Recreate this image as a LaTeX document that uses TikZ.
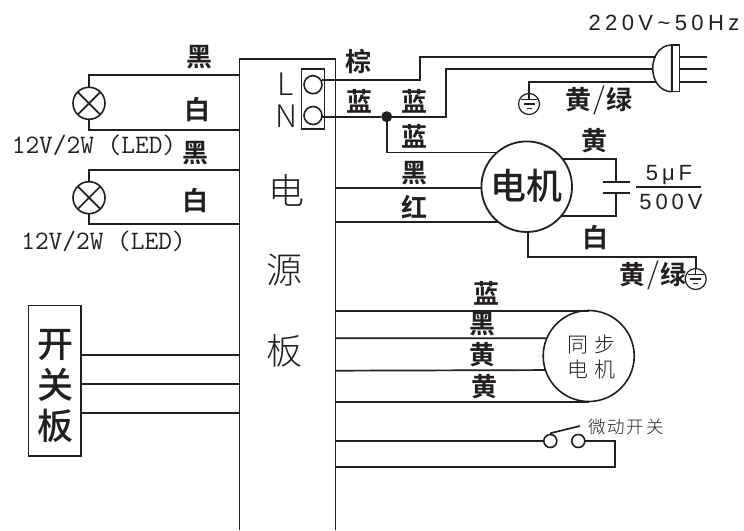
\documentclass[tikz,border=0pt]{standalone}
\usepackage{fontspec}
\setmainfont{Liberation Sans}
\setmonofont{Latin Modern Mono}
\newfontfamily\cjk{Noto Sans CJK SC Medium}
\newfontfamily\cjklight{Noto Sans CJK SC Light}
\newfontfamily\cjkbold{Noto Sans CJK SC Bold}
\newfontfamily\wideA[LetterSpace=20]{Liberation Sans}
\newfontfamily\wideB[LetterSpace=18]{Liberation Sans}
\definecolor{ink}{HTML}{231F20}
\tikzset{
  wire/.style={draw=ink,line width=1.7pt,line join=miter},
  thickwire/.style={draw=ink,line width=2pt,line join=miter},
  rim/.style={draw=ink,line width=1.5pt},
  roundpart/.style={circle,draw=ink,line width=1.6pt,fill=white,inner sep=0pt,outer sep=0pt},
  lbl/.style={text=ink,inner sep=0pt,outer sep=0pt,font=\fontsize{26}{26}\selectfont\cjkbold},
  bigtxt/.style={text=ink,inner sep=0pt,outer sep=0pt,font=\fontsize{36}{36}\selectfont\cjklight},
  smalltxt/.style={text=ink,inner sep=0pt,outer sep=0pt},
  ledtxt/.style={text=ink,inner sep=0pt,outer sep=0pt,font=\fontsize{26.6}{26.6}\selectfont\ttfamily},
}
\newcommand{\yg}{黄\hspace{2pt}{\cjklight\fontsize{30}{30}\selectfont /}\hspace{2pt}绿}
\begin{document}
\begin{tikzpicture}[x=1pt,y=-1pt]
\useasboundingbox (0,0) rectangle (744,530);
\fill[white] (0,0) rectangle (744,530);

% power board (open at the lower edge)
\coordinate (bTL) at (239.5,59);
\coordinate (bTR) at (335.5,59);
\coordinate (bBL) at (239.5,530);
\coordinate (bBR) at (335.5,530);
\draw[rim] (bBL) -- (bTL) -- (bTR) -- (bBR);
\node[bigtxt] (tDian) at (286,190) {电};
\node[bigtxt] (tYuan) at (284.5,270.5) {源};
\node[bigtxt] (tBan) at (284.5,351) {板};

% terminals
\node[draw=ink,line width=1.3pt,minimum width=23pt,minimum height=60pt,inner sep=0pt,outer sep=0pt] (term) at (313.2,99) {};
\node[roundpart,minimum size=18pt] (tL) at (313,84.7) {};
\node[roundpart,minimum size=18pt] (tN) at (313,115.5) {};
\node[smalltxt,font=\fontsize{31}{31}\selectfont\cjklight] (lL) at (286,84) {L};
\node[smalltxt,font=\fontsize{31}{31}\selectfont\cjklight] (lN) at (286,116) {N};

% plug
\coordinate (pTop) at (671.7,45);
\coordinate (pBot) at (671.7,91.7);
\fill[white,draw=ink,line width=1.5pt] (pTop) .. controls (660,45) and (652.7,56) .. (652.7,68.3) .. controls (652.7,80.6) and (660,91.7) .. (pBot) -- cycle;
\node[draw=ink,line width=1.4pt,minimum width=7.6pt,minimum height=46.7pt,inner sep=0pt,outer sep=0pt,fill=white] (plugbar) at (675.6,68.3) {};
\coordinate (pr1) at (707,56.7);
\coordinate (pr2) at (707,69.3);
\coordinate (pr3) at (707,81.7);
\coordinate (pl1) at (655.5,56.7);
\coordinate (pl2) at (652.7,69.3);
\coordinate (pl3) at (656,81.7);
\draw[wire] (plugbar.east |- pr1) -- (pr1);
\draw[wire] (plugbar.east |- pr2) -- (pr2);
\draw[wire] (plugbar.east |- pr3) -- (pr3);
\node[smalltxt,font=\fontsize{22}{22}\selectfont\wideA] (tV) at (664,23) {220V\textasciitilde 50Hz};

% mains wires
\coordinate (k1) at (420,80.3);
\coordinate (k1b) at (420,56.7);
\coordinate (k2) at (446,116.7);
\coordinate (k2b) at (446,69.3);
\coordinate (tLe) at (322,80.3);
\coordinate (tNe) at (322,116.7);
\node[circle,fill=ink,minimum size=11pt,inner sep=0pt] (dot) at (386.7,116.7) {};
\draw[thickwire] (tLe) -- (k1) -- (k1b) -- (pl1);
\draw[thickwire] (tNe) -- (dot) -- (k2) -- (k2b) -- (pl2);

% earth 1
\node[circle,draw=ink,line width=1.2pt,minimum size=21pt,inner sep=0pt,outer sep=0pt] (e1) at (529,104) {};
\coordinate (e1s) at (529,99.3);
\coordinate (e1c) at (529,81.7);
\draw[wire] (pl3) -- (e1c) -- (e1.north);
\draw[line width=1.1pt,draw=ink] (e1.north) -- (e1s);
\draw[line width=1.1pt,draw=ink] (521,99.3) -- (537,99.3) (523.5,104) -- (534.5,104) (526.5,108.7) -- (531.5,108.7);

% AC motor
\node[roundpart,line width=1.8pt,minimum size=90.6pt] (motor) at (526.7,186.7) {};
\node[text=ink,inner sep=0pt,font=\fontsize{36}{36}\selectfont\cjk] (tMotor) at (526.7,186) {电机};
\draw[wire] (dot) |- (motor.131.4);
\coordinate (pm1) at (335.5,188);
\coordinate (pm2) at (335.5,222);
\draw[wire] (pm1) -- (motor.west |- pm1);
\draw[wire] (pm2) -- (motor.231);

% capacitor
\coordinate (c1) at (616,182.3);
\coordinate (c2) at (616,192.7);
\draw[thickwire] (motor.37) -- (motor.37 -| c1) -- (c1);
\draw[thickwire] (motor.-40) -- (motor.-40 -| c2) -- (c2);
\draw[thickwire] (602.7,182.3) -- (630,182.3) (602.7,192.7) -- (630,192.7);
\coordinate (fL) at (636,186.7);
\coordinate (fR) at (700.7,186.7);
\draw[thickwire] (fL) -- (fR);
\node[smalltxt,font=\fontsize{22}{22}\selectfont\wideB] (t5u) at (669,175) {5μF};
\node[smalltxt,font=\fontsize{22}{22}\selectfont\wideB] (t500) at (671,201.7) {500V};

% earth 2
\node[circle,draw=ink,line width=1.2pt,minimum size=21pt,inner sep=0pt,outer sep=0pt] (e2) at (695.7,279) {};
\coordinate (e2c) at (695.7,257);
\coordinate (m2c) at (527.7,257);
\draw[wire] (motor.south -| m2c) -- (m2c) -- (e2c) -- (e2.north);
\draw[line width=1.1pt,draw=ink] (e2.north) -- (695.7,274.3);
\draw[line width=1.1pt,draw=ink] (687.7,274.3) -- (703.7,274.3) (690.2,279) -- (701.2,279) (693.2,283.7) -- (698.2,283.7);

% synchronous motor
\node[roundpart,minimum size=91pt] (sync) at (588.7,356) {};
\node[smalltxt,font=\fontsize{21}{21}\selectfont\cjklight] (tS1) at (591.5,345) {同\hspace{6pt}步};
\node[smalltxt,font=\fontsize{21}{21}\selectfont\cjklight] (tS2) at (591.5,369.5) {电\hspace{6pt}机};
\coordinate (ps1) at (335.5,311.3);
\coordinate (ps2) at (335.5,338.3);
\coordinate (ps3) at (335.5,370.7);
\coordinate (ps4) at (335.5,401.7);
\draw[wire] (ps1) -- (ps1 -| sync.north);
\draw[wire] (ps2) -- (sync.157);
\draw[wire] (ps3) -- (sync.198.9);
\draw[wire] (ps4) -- (ps4 -| sync.south);

% microswitch
\node[roundpart,minimum size=13pt] (sw1) at (550.3,441) {};
\node[roundpart,minimum size=13pt] (sw2) at (578.3,441) {};
\coordinate (lev1) at (550,433.3);
\coordinate (lev2) at (580,426);
\draw[wire] (lev1) -- (lev2);
\coordinate (ps5) at (335.5,441);
\coordinate (ps6) at (335.5,467.3);
\coordinate (swc) at (615,441);
\draw[wire] (ps5) -- (sw1.west);
\draw[wire] (sw2.east) -- (swc) -- (swc |- ps6) -- (ps6);
\node[smalltxt,font=\fontsize{17.5}{17.5}\selectfont\cjklight] (tMicro) at (626,426.7) {微\hspace{2pt}动\hspace{2pt}开\hspace{2pt}关};

% lamps
\node[roundpart,minimum size=32pt] (lamp1) at (89,103.3) {};
\node[roundpart,minimum size=32pt] (lamp2) at (89,197.7) {};
\draw[wire] (lamp1.45) -- (lamp1.225) (lamp1.135) -- (lamp1.-45);
\draw[wire] (lamp2.45) -- (lamp2.225) (lamp2.135) -- (lamp2.-45);
\coordinate (bl1) at (239.5,75);
\coordinate (bl2) at (239.5,130);
\coordinate (bl3) at (239.5,170);
\coordinate (bl4) at (239.5,224.3);
\draw[wire] (lamp1.north) -- (lamp1.north |- bl1) -- (bl1);
\draw[wire] (lamp1.south) -- (lamp1.south |- bl2) -- (bl2);
\draw[wire] (lamp2.north) -- (lamp2.north |- bl3) -- (bl3);
\draw[wire] (lamp2.south) -- (lamp2.south |- bl4) -- (bl4);
\node[ledtxt] (tLed1) at (94,145) {12V/2W (LED)};
\node[ledtxt] (tLed2) at (103.5,241) {12V/2W (LED)};

% switch board
\node[draw=ink,line width=1.3pt,minimum width=52.3pt,minimum height=150.7pt,inner sep=0pt,outer sep=0pt] (swb) at (54.9,380.7) {};
\node[text=ink,inner sep=0pt,font=\fontsize{36}{36}\selectfont\cjk] (tK) at (55,345) {开};
\node[text=ink,inner sep=0pt,font=\fontsize{36}{36}\selectfont\cjk] (tG) at (55,385) {关};
\node[text=ink,inner sep=0pt,font=\fontsize{36}{36}\selectfont\cjk] (tB) at (55,426) {板};
\coordinate (bs1) at (239.5,355);
\coordinate (bs2) at (239.5,383.7);
\coordinate (bs3) at (239.5,413);
\draw[wire] (swb.east |- bs1) -- (bs1);
\draw[wire] (swb.east |- bs2) -- (bs2);
\draw[wire] (swb.east |- bs3) -- (bs3);

% colour labels
\node[lbl] (a1) at (199,57) {黑};
\node[lbl] (a2) at (197,110) {白};
\node[lbl] (a3) at (195,153) {黑};
\node[lbl] (a4) at (195,201) {白};
\node[lbl] (a5) at (358,62) {棕};
\node[lbl] (a6) at (359,101) {蓝};
\node[lbl] (a7) at (414,101) {蓝};
\node[lbl] (a8) at (414,136) {蓝};
\node[lbl] (a9) at (599,100) {\yg};
\node[lbl] (a10) at (594,141) {黄};
\node[lbl] (a11) at (414,172.7) {黑};
\node[lbl] (a12) at (414,206.7) {红};
\node[lbl] (a13) at (595,238) {白};
\node[lbl] (a14) at (653,275) {\yg};
\node[lbl] (a15) at (486.7,293) {蓝};
\node[lbl] (a16) at (482,324) {黑};
\node[lbl] (a17) at (482,355) {黄};
\node[lbl] (a18) at (484,386.7) {黄};
\end{tikzpicture}
\end{document}
